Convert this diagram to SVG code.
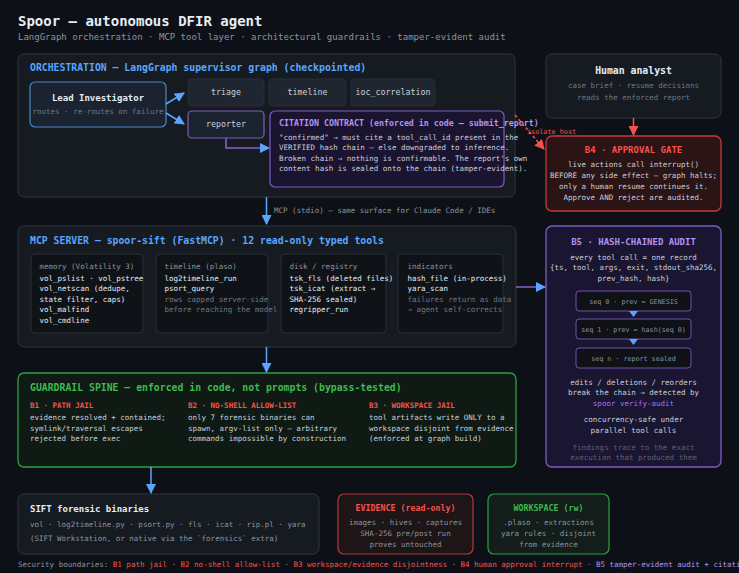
<svg xmlns="http://www.w3.org/2000/svg" width="739" height="573" viewBox="0 0 739 573">
<style>
text { font-family: "DejaVu Sans Mono", "Liberation Mono", monospace; }
.b { font-weight: bold; }
.s10 { font-size: 9.8px; }
.s9 { font-size: 9px; }
.s83 { font-size: 8.3px; }
.s75 { font-size: 7.5px; }
.s67 { font-size: 6.7px; }
.c { text-anchor: middle; }
.wh { fill: #e6edf3; }
.tx { fill: #c9d1d9; }
.gy { fill: #8b949e; }
.dm { fill: #6e7681; }
.bl { fill: #58a6ff; }
.pu { fill: #b392f0; }
.rd { fill: #f85149; }
.gr { fill: #3fb950; }
.panel { fill: #161b22; stroke: #30363d; stroke-width: 1; }
.chip { fill: #1f2630; stroke: #262d37; stroke-width: 1; }
.sub { fill: #0f1318; stroke: #2a3038; stroke-width: 1; }
.conn { fill: none; stroke-width: 1.5; }
</style>
<defs>
<marker id="ab" markerWidth="10" markerHeight="10" refX="9" refY="5" orient="auto" markerUnits="userSpaceOnUse"><path d="M0,0 L10,5 L0,10 Z" fill="#58a6ff"/></marker>
<marker id="ar" markerWidth="10" markerHeight="10" refX="9" refY="5" orient="auto" markerUnits="userSpaceOnUse"><path d="M0,0 L10,5 L0,10 Z" fill="#f85149"/></marker>
</defs>
<rect x="0" y="0" width="739" height="573" fill="#0d1117"/>

<g id="header">
<text x="18" y="26" class="b wh" style="font-size:14px">Spoor — autonomous DFIR agent</text>
<text x="18" y="40" class="gy" style="font-size:9px">LangGraph orchestration · MCP tool layer · architectural guardrails · tamper-evident audit</text>
</g>

<g id="orchestration">
<rect x="18" y="54" width="497" height="143" rx="6" class="panel"/>
<text x="30" y="71" class="b s10 bl">ORCHESTRATION — LangGraph supervisor graph (checkpointed)</text>
</g>

<g id="lead-investigator">
<rect x="30" y="82" width="136" height="45" rx="5" fill="#1b2331" stroke="#4a88c8" stroke-width="1.2"/>
<text x="98" y="101" class="b s9 c wh">Lead Investigator</text>
<text x="98" y="114" class="s75 c dm">routes · re-routes on failure</text>
</g>

<g id="triage">
<rect x="188" y="79" width="76" height="27" rx="4" class="chip"/>
<text x="226" y="95" class="s83 c tx">triage</text>
</g>
<g id="timeline">
<rect x="269" y="79" width="77" height="27" rx="4" class="chip"/>
<text x="307.5" y="95" class="s83 c tx">timeline</text>
</g>
<g id="ioc_correlation">
<rect x="351" y="79" width="84" height="27" rx="4" class="chip"/>
<text x="393" y="95" class="s83 c tx">ioc_correlation</text>
</g>
<g id="reporter">
<rect x="188" y="111" width="76" height="27" rx="4" fill="#1c2330" stroke="#7d5fb5" stroke-width="1.2"/>
<text x="226" y="127" class="s83 c tx">reporter</text>
</g>

<g id="citation-contract">
<rect x="270" y="111" width="234" height="76" rx="5" fill="#1b1430" stroke="#7e5cc4" stroke-width="1.2"/>
<text x="279" y="126" class="b s83 pu">CITATION CONTRACT (enforced in code — submit_report)</text>
<text x="279" y="139.5" class="s75 tx">"confirmed" → must cite a tool_call_id present in the</text>
<text x="279" y="150" class="s75 tx">VERIFIED hash chain — else downgraded to inference.</text>
<text x="279" y="160.5" class="s75 tx">Broken chain → nothing is confirmable. The report's own</text>
<text x="279" y="171" class="s75 tx">content hash is sealed onto the chain (tamper-evident).</text>
</g>

<g id="human-analyst">
<rect x="546" y="54" width="175" height="64" rx="6" class="panel"/>
<text x="633.5" y="74" class="b s10 c wh">Human analyst</text>
<text x="633.5" y="87.5" class="s75 c dm">case brief · resume decisions</text>
<text x="633.5" y="99.5" class="s75 c dm">reads the enforced report</text>
</g>

<g id="approval-gate">
<rect x="546" y="136" width="175" height="75" rx="6" fill="#2a1416" stroke="#c9383a" stroke-width="1.3"/>
<text x="633.5" y="153" class="b s9 c rd">B4 · APPROVAL GATE</text>
<text x="633.5" y="166.5" class="s75 c tx">live actions call interrupt()</text>
<text x="633.5" y="177.5" class="s75 c tx">BEFORE any side effect — graph halts;</text>
<text x="633.5" y="189" class="s75 c tx">only a human resume continues it.</text>
<text x="633.5" y="200" class="s75 c tx">Approve AND reject are audited.</text>
</g>

<g id="mcp-server">
<rect x="18" y="226" width="498" height="121" rx="6" class="panel"/>
<text x="30" y="244" class="b s10 bl">MCP SERVER — spoor-sift (FastMCP) · 12 read-only typed tools</text>
<rect x="31" y="254" width="112" height="79" rx="4" class="sub"/>
<text x="39.5" y="268.5" class="s75 gy">memory (Volatility 3)</text>
<text x="39.5" y="280.5" class="s75 wh">vol_pslist · vol_pstree</text>
<text x="39.5" y="291" class="s75 wh">vol_netscan (dedupe,</text>
<text x="39.5" y="301.5" class="s75 wh">state filter, caps)</text>
<text x="39.5" y="312" class="s75 wh">vol_malfind</text>
<text x="39.5" y="322.5" class="s75 wh">vol_cmdline</text>
<rect x="156" y="254" width="112" height="79" rx="4" class="sub"/>
<text x="164.5" y="268.5" class="s75 gy">timeline (plaso)</text>
<text x="164.5" y="280.5" class="s75 wh">log2timeline_run</text>
<text x="164.5" y="291" class="s75 wh">psort_query</text>
<text x="164.5" y="301.5" class="s75 dm">rows capped server-side</text>
<text x="164.5" y="312" class="s75 dm">before reaching the model</text>
<rect x="281" y="254" width="105" height="79" rx="4" class="sub"/>
<text x="289.5" y="268.5" class="s75 gy">disk / registry</text>
<text x="289.5" y="280.5" class="s75 wh">tsk_fls (deleted files)</text>
<text x="289.5" y="291" class="s75 wh">tsk_icat (extract →</text>
<text x="289.5" y="301.5" class="s75 wh">SHA-256 sealed)</text>
<text x="289.5" y="312" class="s75 wh">regripper_run</text>
<rect x="398" y="254" width="105" height="79" rx="4" class="sub"/>
<text x="407.5" y="268.5" class="s75 gy">indicators</text>
<text x="407.5" y="280.5" class="s75 wh">hash_file (in-process)</text>
<text x="407.5" y="291" class="s75 wh">yara_scan</text>
<text x="407.5" y="301.5" class="s75 dm">failures return as data</text>
<text x="407.5" y="312" class="s75 dm">→ agent self-corrects</text>
</g>

<g id="hash-chained-audit">
<rect x="546" y="226" width="175" height="241" rx="6" fill="#1a1530" stroke="#7e5cc4" stroke-width="1.3"/>
<text x="633.5" y="244.5" class="b s9 c pu">B5 · HASH-CHAINED AUDIT</text>
<text x="633.5" y="259.5" class="s75 c tx">every tool call = one record</text>
<text x="633.5" y="270" class="s75 c tx">{ts, tool, args, exit, stdout_sha256,</text>
<text x="633.5" y="280.5" class="s75 c tx">prev_hash, hash}</text>
<rect x="576" y="291" width="115" height="20" rx="3" fill="#0f1117" stroke="#6f52ad" stroke-width="1"/>
<text x="633.5" y="303.5" class="s67 c gy">seq 0 · prev = GENESIS</text>
<path d="M629,311 L638,311 L633.5,317 Z" fill="#58a6ff"/>
<rect x="576" y="319" width="115" height="20" rx="3" fill="#0f1117" stroke="#6f52ad" stroke-width="1"/>
<text x="633.5" y="332" class="s67 c gy">seq 1 · prev = hash(seq 0)</text>
<path d="M629,339 L638,339 L633.5,345 Z" fill="#58a6ff"/>
<rect x="576" y="348" width="115" height="20" rx="3" fill="#0f1117" stroke="#6f52ad" stroke-width="1"/>
<text x="633.5" y="361" class="s67 c gy">seq n · report sealed</text>
<text x="633.5" y="384.5" class="s75 c tx">edits / deletions / reorders</text>
<text x="633.5" y="395" class="s75 c tx">break the chain → detected by</text>
<text x="633.5" y="405.5" class="s75 c" fill="#a371f7">spoor verify-audit</text>
<text x="633.5" y="422" class="s75 c tx">concurrency-safe under</text>
<text x="633.5" y="432.5" class="s75 c tx">parallel tool calls</text>
<text x="633.5" y="449.5" class="s75 c" fill="#5a6370">findings trace to the exact</text>
<text x="633.5" y="460" class="s75 c" fill="#5a6370">execution that produced them</text>
</g>

<g id="guardrail-spine">
<rect x="18" y="373" width="498" height="94" rx="6" fill="#0f1a14" stroke="#2ea043" stroke-width="1.3"/>
<text x="30" y="391" class="b s10 gr">GUARDRAIL SPINE — enforced in code, not prompts (bypass-tested)</text>
<text x="30" y="407.5" class="b s75 rd">B1 · PATH JAIL</text>
<text x="30" y="420" class="s75 tx">evidence resolved + contained;</text>
<text x="30" y="430.5" class="s75 tx">symlink/traversal escapes</text>
<text x="30" y="441" class="s75 tx">rejected before exec</text>
<text x="188" y="407.5" class="b s75 rd">B2 · NO-SHELL ALLOW-LIST</text>
<text x="188" y="420" class="s75 tx">only 7 forensic binaries can</text>
<text x="188" y="430.5" class="s75 tx">spawn, argv-list only — arbitrary</text>
<text x="188" y="441" class="s75 tx">commands impossible by construction</text>
<text x="369" y="407.5" class="b s75 rd">B3 · WORKSPACE JAIL</text>
<text x="369" y="420" class="s75 tx">tool artifacts write ONLY to a</text>
<text x="369" y="430.5" class="s75 tx">workspace disjoint from evidence</text>
<text x="369" y="441" class="s75 tx">(enforced at graph build)</text>
</g>

<g id="sift-binaries">
<rect x="18" y="494" width="301" height="60" rx="6" class="panel"/>
<text x="30" y="512" class="b s9 wh">SIFT forensic binaries</text>
<text x="30" y="527" class="s75 gy">vol · log2timeline.py · psort.py · fls · icat · rip.pl · yara</text>
<text x="30" y="541" class="s75 gy">(SIFT Workstation, or native via the `forensics` extra)</text>
</g>

<g id="evidence">
<rect x="338" y="494" width="135" height="60" rx="6" fill="#1e1517" stroke="#b8373a" stroke-width="1.2"/>
<text x="405.5" y="510.5" class="b s83 c rd">EVIDENCE (read-only)</text>
<text x="405.5" y="524.5" class="s75 c gy">images · hives · captures</text>
<text x="405.5" y="536" class="s75 c gy">SHA-256 pre/post run</text>
<text x="405.5" y="546.5" class="s75 c gy">proves untouched</text>
</g>

<g id="workspace">
<rect x="488" y="494" width="121" height="60" rx="6" fill="#131d19" stroke="#2ea043" stroke-width="1.2"/>
<text x="548.5" y="510.5" class="b s83 c gr">WORKSPACE (rw)</text>
<text x="548.5" y="524.5" class="s75 c gy">.plaso · extractions</text>
<text x="548.5" y="536" class="s75 c gy">yara rules · disjoint</text>
<text x="548.5" y="546.5" class="s75 c gy">from evidence</text>
</g>

<g id="connectors">
<line x1="166" y1="104" x2="184" y2="93" class="conn" stroke="#58a6ff" marker-end="url(#ab)"/>
<line x1="166" y1="113" x2="184" y2="124" class="conn" stroke="#58a6ff" marker-end="url(#ab)"/>
<polyline points="226,138 226,148 269,148" class="conn" stroke="#8a63c7" marker-end="url(#ab)"/>
<line x1="515" y1="115" x2="544" y2="149" class="conn" stroke="#f85149" stroke-dasharray="3,2.5" marker-end="url(#ar)"/>
<text x="527" y="133.5" class="rd" style="font-size:6.8px">isolate_host</text>
<line x1="633.5" y1="118" x2="633.5" y2="135" class="conn" stroke="#f85149" marker-end="url(#ar)"/>
<line x1="266.5" y1="197" x2="266.5" y2="224" class="conn" stroke="#58a6ff" marker-end="url(#ab)"/>
<text x="274" y="213" class="s75 gy">MCP (stdio) — same surface for Claude Code / IDEs</text>
<line x1="516" y1="287" x2="545" y2="287" class="conn" stroke="#8a63c7" marker-end="url(#ab)"/>
<line x1="266.5" y1="347" x2="266.5" y2="372" class="conn" stroke="#58a6ff" marker-end="url(#ab)"/>
<line x1="151" y1="467" x2="151" y2="493" class="conn" stroke="#58a6ff" marker-end="url(#ab)"/>
</g>

<g id="legend">
<text x="18" y="566.5" class="s75"><tspan fill="#8b949e">Security boundaries: </tspan><tspan fill="#f85149">B1 path jail</tspan><tspan fill="#8b949e"> · </tspan><tspan fill="#f85149">B2 no-shell allow-list</tspan><tspan fill="#8b949e"> · </tspan><tspan fill="#f85149">B3 workspace/evidence disjointness</tspan><tspan fill="#8b949e"> · </tspan><tspan fill="#f85149">B4 human approval interrupt</tspan><tspan fill="#8b949e"> · </tspan><tspan fill="#b392f0">B5 tamper-evident audit + citation</tspan></text>
</g>
</svg>
